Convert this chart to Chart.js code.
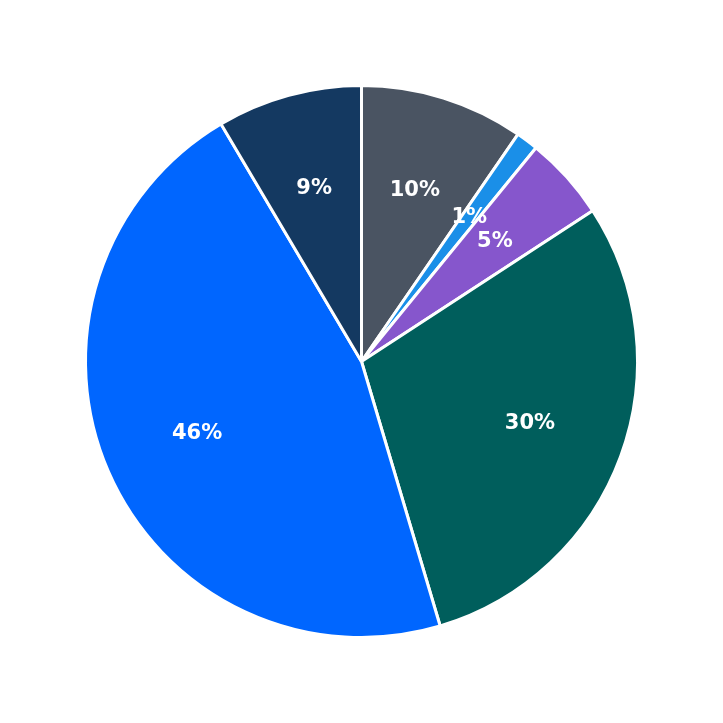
<!DOCTYPE html>
<html><head><meta charset="utf-8">
<script src="https://cdn.jsdelivr.net/npm/chart.js@4"></script>
<style>html,body{margin:0;padding:0;background:#fff}#w{width:723px;height:723px}</style>
</head><body><div id="w"><canvas id="c"></canvas></div>
<script>
const categories = ["A","B","C","D","E","F"];
const values = [9.6, 1.3, 4.9, 29.6, 46.1, 8.5];
const colors = ["#4a5462","#1a8fe8","#8656cc","#005e5c","#0066ff","#143961"];
const labelPlugin = {
  id: 'pctLabels',
  afterDatasetsDraw(chart) {
    const ctx = chart.ctx;
    const meta = chart.getDatasetMeta(0);
    const total = values.reduce((a,b)=>a+b,0);
    ctx.save();
    ctx.font = 'bold 21px "DejaVu Sans"';
    ctx.fillStyle = '#fff';
    ctx.textAlign = 'center'; ctx.textBaseline = 'middle';
    meta.data.forEach((arc, i) => {
      const a = (arc.startAngle + arc.endAngle) / 2;
      const r = arc.outerRadius * 0.65;
      ctx.fillText(Math.round(values[i] / total * 100) + '%', arc.x + Math.cos(a) * r, arc.y + Math.sin(a) * r);
    });
    ctx.restore();
  }
};
new Chart(document.getElementById('c'), {
  type: 'pie',
  data: { labels: categories, datasets: [{ data: values, backgroundColor: colors, borderColor: '#fff', borderWidth: 3 }] },
  options: { responsive: true, maintainAspectRatio: false, animation: false,
    layout: { padding: 84 },
    plugins: { legend: { display: false }, tooltip: { enabled: false } } },
  plugins: [labelPlugin]
});
</script></body></html>
